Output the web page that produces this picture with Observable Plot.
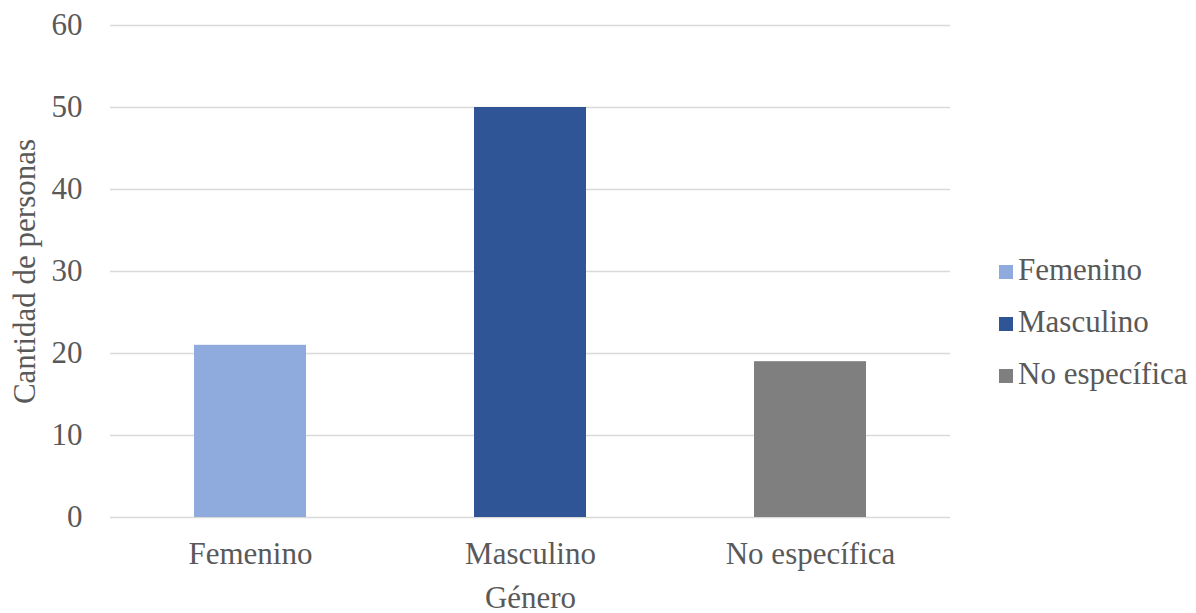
<!DOCTYPE html>
<html>
<head>
<meta charset="utf-8">
<script src="https://cdn.jsdelivr.net/npm/d3@7"></script>
<script src="https://cdn.jsdelivr.net/npm/@observablehq/plot@0.6"></script>
<style>
  html, body { margin: 0; padding: 0; background: #fff; }
  body { width: 1196px; height: 613px; position: relative; overflow: hidden; font-family: "Liberation Serif", Tinos, "Times New Roman", "DejaVu Serif", serif; }
  #chart { position: absolute; left: 0; top: 0; }
  #legend { position: absolute; left: 999px; top: 244px; color: #595959; font-size: 31px; font-family: "Liberation Serif", Tinos, "Times New Roman", "DejaVu Serif", serif; }
  .item { display: flex; align-items: center; height: 52px; }
  .sw { width: 14px; height: 14px; margin-right: 5px; margin-top: 3px; }
  svg text { font-family: "Liberation Serif", Tinos, "Times New Roman", "DejaVu Serif", serif; }
</style>
</head>
<body>
<div id="chart"></div>
<div id="legend"></div>
<script>
const categories = ["Femenino", "Masculino", "No específica"];
const values = [21, 50, 19];
const colors = ["#8FAADC", "#2F5597", "#7F7F7F"];
const yTicks = [0, 10, 20, 30, 40, 50, 60];

const data = categories.map((c, i) => ({ genero: c, cantidad: values[i] }));

const plot = Plot.plot({
  width: 960,
  height: 613,
  marginLeft: 110,
  marginRight: 10,
  marginTop: 25,
  marginBottom: 96,
  style: { fontFamily: "'Liberation Serif', Tinos, 'Times New Roman', 'DejaVu Serif', serif", fontSize: "31px", color: "#595959", background: "#fff" },
  x: { domain: categories, paddingInner: 0.6, paddingOuter: 0.3, label: null },
  y: { domain: [0, 60], ticks: yTicks, label: null },
  color: { domain: categories, range: colors },
  marks: [
    Plot.ruleY(yTicks, { stroke: "#D9D9D9", strokeWidth: 1.4 }),
    Plot.barY(data, { x: "genero", y: "cantidad", fill: "genero" }),
    Plot.axisY({ ticks: yTicks, tickSize: 0, tickPadding: 28, label: null, fill: "#595959" }),
    Plot.axisX({ tickSize: 0, tickPadding: 24, label: null, fill: "#595959" }),
    Plot.text(["Cantidad de personas"], { frameAnchor: "left", textAnchor: "middle", dx: -85, rotate: -90, fill: "#595959", fontSize: 31 }),
    Plot.text(["Género"], { frameAnchor: "bottom", dy: 90, fill: "#595959", fontSize: 31 })
  ]
});
document.getElementById("chart").appendChild(plot);

const legend = document.getElementById("legend");
categories.forEach((c, i) => {
  const item = document.createElement("div");
  item.className = "item";
  const sw = document.createElement("div");
  sw.className = "sw";
  sw.style.background = colors[i];
  const t = document.createElement("span");
  t.textContent = c;
  item.appendChild(sw);
  item.appendChild(t);
  legend.appendChild(item);
});
</script>
</body>
</html>
